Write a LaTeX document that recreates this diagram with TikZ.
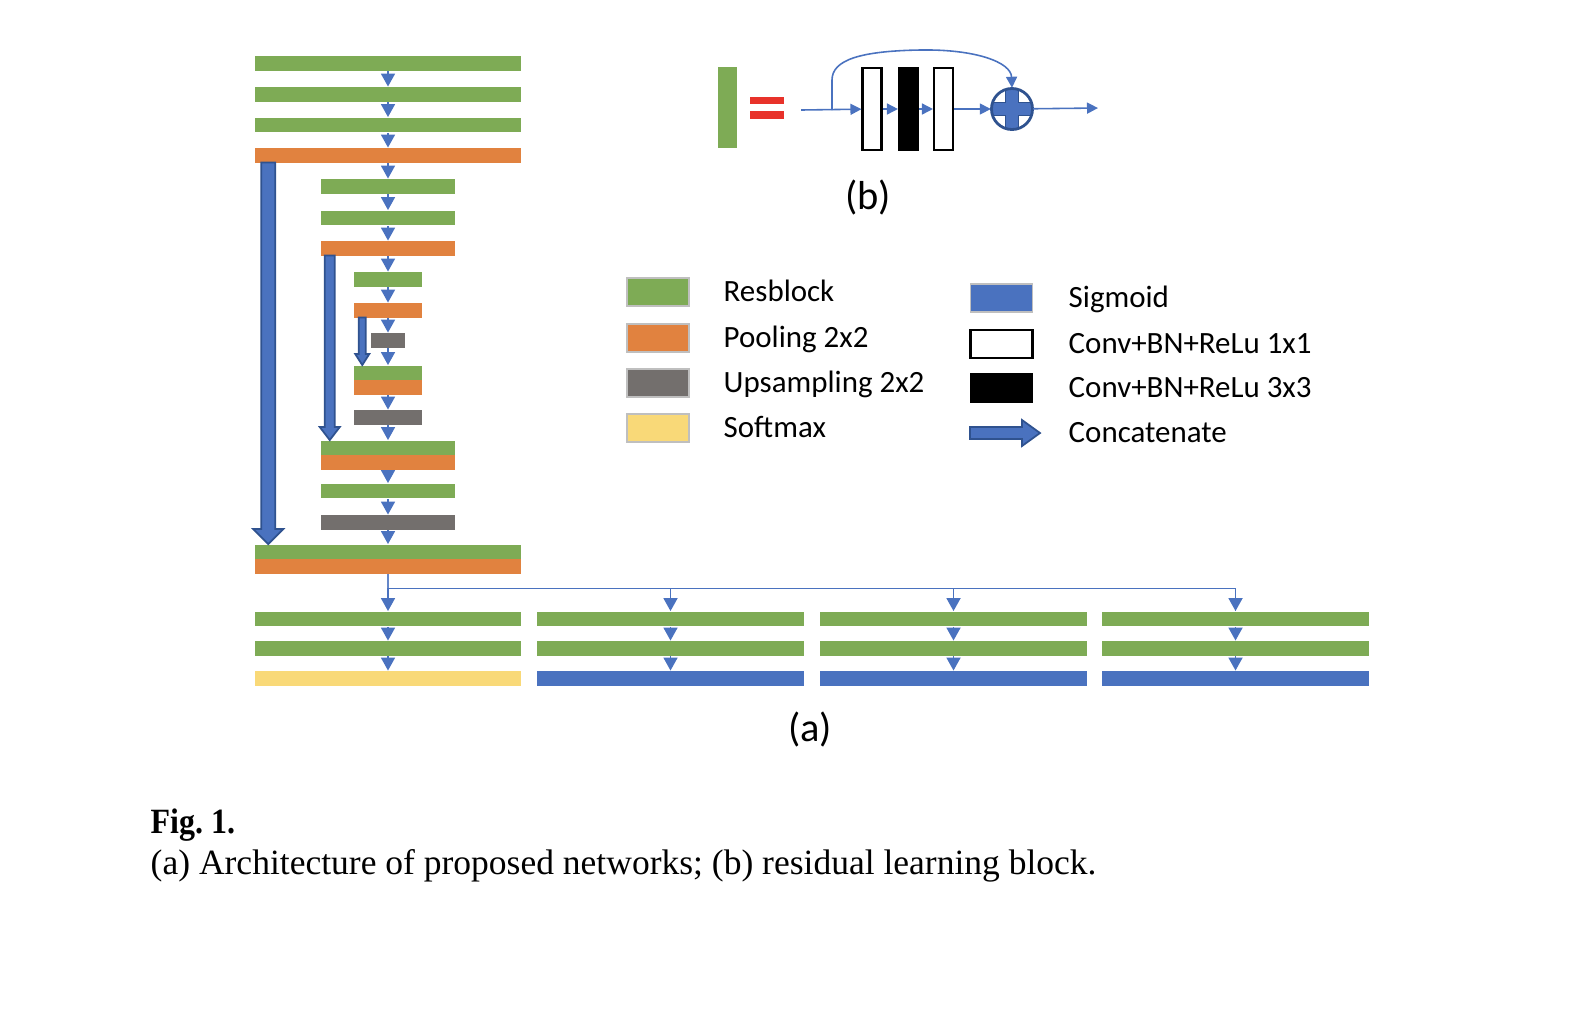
\documentclass[tikz,border=0pt]{standalone}
\usepackage{fontspec}
\setmainfont{Liberation Serif}
\newfontfamily\calibri{Carlito}
\usetikzlibrary{arrows.meta,calc}
\definecolor{cgreen}{HTML}{7EAB55}
\definecolor{corange}{HTML}{E1823F}
\definecolor{cgray}{HTML}{736F6D}
\definecolor{cyellow}{HTML}{F9D978}
\definecolor{cblue}{HTML}{4A72BF}
\definecolor{cdark}{HTML}{2F528F}
\definecolor{cred}{HTML}{E8322A}
\newcommand\catarr[5]{\path[concat] ($(#1)+(-#3,0)$) -- ($(#2)+(-#3,-#5)$) -- ($(#2)+(-#4,-#5)$) -- (#2) -- ($(#2)+(#4,-#5)$) -- ($(#2)+(#3,-#5)$) -- ($(#1)+(#3,0)$) -- cycle;}
\tikzset{
  bar/.style={fill=#1, draw=none, inner sep=0pt, minimum height=0.145cm},
  wide/.style={minimum width=2.66cm},
  midw/.style={minimum width=1.33cm},
  narrow/.style={minimum width=0.67cm},
  tinyw/.style={minimum width=0.33cm},
  flow/.style={draw=cblue, line width=0.5pt, -{Triangle[width=0.14cm,length=0.13cm]}},
  flowb/.style={draw=cblue, line width=0.45pt, -{Triangle[width=0.11cm,length=0.11cm]}},
  thinline/.style={draw=cblue!85, line width=0.4pt},
  concat/.style={fill=cblue, draw=cdark, line width=0.5pt, line join=miter},
  swatch/.style={fill=#1, draw=black!25, line width=0.5pt, minimum width=0.62cm, minimum height=0.28cm, inner sep=0pt},
  legtext/.style={anchor=base west, inner sep=0pt, font=\calibri\fontsize{8.8}{10}\selectfont},
  sublabel/.style={inner sep=0pt, font=\calibri\fontsize{11.5}{13}\selectfont},
  captext/.style={anchor=base west, inner sep=0pt, font=\fontsize{10.1}{12}\selectfont},
  convbox/.style={fill=#1, draw=black, line width=0.6pt, minimum width=0.19cm, minimum height=0.82cm, inner sep=0pt},
}
\begin{document}
\begin{tikzpicture}[x=0.01cm,y=-0.01cm]
\useasboundingbox (0,0) rectangle (1570,1014);
% ---- encoder/decoder column
\node[bar=cgreen, wide] (l1) at (388,63.5) {};
\node[bar=cgreen, wide] (l2) at (388,94.5) {};
\node[bar=cgreen, wide] (l3) at (388,125) {};
\node[bar=corange, wide] (l4) at (388,155.5) {};
\node[bar=cgreen, midw] (m1) at (388,186.5) {};
\node[bar=cgreen, midw] (m2) at (388,218) {};
\node[bar=corange, midw] (m3) at (388,248.5) {};
\node[bar=cgreen, narrow] (s1) at (388,279.5) {};
\node[bar=corange, narrow] (s2) at (388,310.5) {};
\node[bar=cgray, tinyw] (t1) at (388,340.5) {};
\node[bar=cgreen, narrow] (s3g) at (388,373) {};
\node[bar=corange, narrow] (s3o) at (388,387.5) {};
\node[bar=cgray, narrow] (s4) at (388,417.5) {};
\node[bar=cgreen, midw] (m4g) at (388,448) {};
\node[bar=corange, midw] (m4o) at (388,462.5) {};
\node[bar=cgreen, midw] (m5) at (388,491) {};
\node[bar=cgray, midw] (m6) at (388,522.5) {};
\node[bar=cgreen, wide] (l5g) at (388,552) {};
\node[bar=corange, wide] (l5o) at (388,566.5) {};
\draw[flow] (l1) -- (l2);
\draw[flow] (l2) -- (l3);
\draw[flow] (l3) -- (l4);
\draw[flow] (l4) -- (m1);
\draw[flow] (m1) -- (m2);
\draw[flow] (m2) -- (m3);
\draw[flow] (m3) -- (s1);
\draw[flow] (s1) -- (s2);
\draw[flow] (s2) -- (t1);
\draw[flow] (t1) -- (s3g);
\draw[flow] (s3o) -- (s4);
\draw[flow] (s4) -- (m4g);
\draw[flow] (m4o) -- (m5);
\draw[flow] (m5) -- (m6);
\draw[flow] (m6) -- (l5g);
% ---- concatenation arrows
\coordinate (bigS) at ($(l4.south west)+(14,-1)$);
\coordinate (bigE) at (bigS |- l5g.north);
\catarr{bigS}{bigE}{7}{15}{15}
\coordinate (midS) at ($(m3.south west)+(9,-1)$);
\coordinate (midE) at (midS |- m4g.north);
\catarr{midS}{midE}{5}{10}{13}
\coordinate (smS) at ($(s2.south west)+(8.5,-1)$);
\coordinate (smE) at (smS |- s3g.north);
\catarr{smS}{smE}{3.5}{7}{11}
% ---- output heads
\node[bar=cgreen, wide] (b1a) at (388,619) {};
\node[bar=cgreen, wide] (b1b) at (388,648.5) {};
\node[bar=cyellow, wide] (b1c) at (388,678.5) {};
\node[bar=cgreen, wide] (b2a) at (670.5,619) {};
\node[bar=cgreen, wide] (b2b) at (670.5,648.5) {};
\node[bar=cblue, wide] (b2c) at (670.5,678.5) {};
\node[bar=cgreen, wide] (b3a) at (953.5,619) {};
\node[bar=cgreen, wide] (b3b) at (953.5,648.5) {};
\node[bar=cblue, wide] (b3c) at (953.5,678.5) {};
\node[bar=cgreen, wide] (b4a) at (1235.5,619) {};
\node[bar=cgreen, wide] (b4b) at (1235.5,648.5) {};
\node[bar=cblue, wide] (b4c) at (1235.5,678.5) {};
\coordinate (hub) at ($(l5o.south)+(0,14)$);
\draw[thinline] (l5o.south) -- (hub);
\draw[flow] (hub) -- (b1a.north);
\draw[thinline] (hub) -| (b4a.north);
\draw[flow] (hub) -| (b2a.north);
\draw[flow] (hub) -| (b3a.north);
\draw[flow] (hub) -| (b4a.north);
\foreach \c in {1,2,3,4}{
  \draw[flow] (b\c a) -- (b\c b);
  \draw[flow] (b\c b) -- (b\c c);
}
\node[sublabel] (alab) at (810,729) {(a)};
% ---- residual block (b)
\node[fill=cgreen, inner sep=0pt, minimum width=0.19cm, minimum height=0.81cm] (rb) at (727.5,107.5) {};
\node[fill=cred, inner sep=0pt, minimum width=0.34cm, minimum height=0.075cm] (eq1) at (767,100.5) {};
\node[fill=cred, inner sep=0pt, minimum width=0.34cm, minimum height=0.075cm] (eq2) at (767,115) {};
\coordinate (in) at (801,110);
\node[convbox=white] (c1) at (872,109) {};
\node[convbox=black] (c2) at (908.5,109) {};
\node[convbox=white] (c3) at (943.5,109) {};
\node[circle, minimum size=0.41cm, inner sep=0pt, fill=white] (add) at (1012,109) {};
\begin{scope}
  \clip (add.center) circle[radius=0.205cm];
  \path[fill=cblue, draw=cdark, line width=0.5pt]
    ($(add.center)+(-6.5,-22)$) -- ($(add.center)+(6.5,-22)$) -- ($(add.center)+(6.5,-6.5)$) -- ($(add.center)+(22,-6.5)$) -- ($(add.center)+(22,6.5)$) -- ($(add.center)+(6.5,6.5)$) -- ($(add.center)+(6.5,22)$) -- ($(add.center)+(-6.5,22)$) -- ($(add.center)+(-6.5,6.5)$) -- ($(add.center)+(-22,6.5)$) -- ($(add.center)+(-22,-6.5)$) -- ($(add.center)+(-6.5,-6.5)$) -- cycle;
\end{scope}
\draw[cdark, line width=0.8pt] (add.center) circle[radius=0.205cm];
\coordinate (out) at (1098,108);
\coordinate (split) at ($(in)+(31,0)$);
\draw[flowb] (in) -- (c1);
\draw[flowb] (c1) -- (c2);
\draw[flowb] (c2) -- (c3);
\draw[flowb] (c3) -- (add);
\draw[flowb] (add) -- (out);
\draw[flowb] (split) -- (832,80) .. controls (832,60) and (860,51) .. (920,50) .. controls (975,49) and (1011,62) .. (add.north);
\node[sublabel] (blab) at (868,197) {(b)};
% ---- legend
\node[swatch=cgreen] (k1) at (658,292) {};
\node[swatch=corange] (k2) at (658,338) {};
\node[swatch=cgray] (k3) at (658,383) {};
\node[swatch=cyellow] (k4) at (658,428) {};
\node[legtext] (k1t) at (723,301) {Resblock};
\node[legtext] (k2t) at (723,347) {Pooling 2x2};
\node[legtext] (k3t) at (723,392) {Upsampling 2x2};
\node[legtext] (k4t) at (723,437) {Softmax};
\node[swatch=cblue] (r1) at (1001.5,298) {};
\node[swatch=white, draw=black, line width=0.6pt] (r2) at (1001.5,344) {};
\node[swatch=black, draw=black] (r3) at (1001.5,388) {};
\coordinate (lcat) at (970,433);
\path[concat] ($(lcat)+(0,-6)$) -- ($(lcat)+(52,-6)$) -- ($(lcat)+(52,-13)$) -- ($(lcat)+(70,0)$) -- ($(lcat)+(52,13)$) -- ($(lcat)+(52,6)$) -- ($(lcat)+(0,6)$) -- cycle;
\node[legtext] (r1t) at (1068,307) {Sigmoid};
\node[legtext] (r2t) at (1068,353) {Conv+BN+ReLu 1x1};
\node[legtext] (r3t) at (1068,397) {Conv+BN+ReLu 3x3};
\node[legtext] (r4t) at (1068,442) {Concatenate};
% ---- caption
\node[captext] (fig) at (150,833) {\scalebox{0.9}[1]{\bfseries Fig.~1.}};
\node[captext] (cap) at (150,874) {(a) Architecture of proposed networks; (b) residual learning block.};
\end{tikzpicture}
\end{document}
